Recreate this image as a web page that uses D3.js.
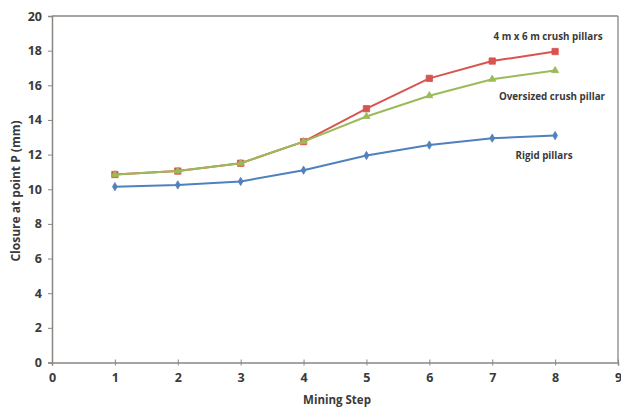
<!DOCTYPE html>
<html>
<head>
<meta charset="utf-8">
<script src="https://cdn.jsdelivr.net/npm/d3@7"></script>
<style>
  html, body { margin: 0; padding: 0; background: #fff; }
  svg { display: block; }
  text { font-family: "Open Sans", "DejaVu Sans", sans-serif; font-weight: bold; fill: #3a3a3a; }
</style>
</head>
<body>
<svg id="chart" width="621" height="409"></svg>
<script>
// Mining steps on the x axis
const steps = [1, 2, 3, 4, 5, 6, 7, 8];
// Closure at point P (mm) per pillar layout
const crushPillars    = [10.85, 11.05, 11.5, 12.75, 14.65, 16.4, 17.4, 17.95];
const oversizedPillar = [10.85, 11.05, 11.5, 12.75, 14.2, 15.4, 16.35, 16.85];
const rigidPillars    = [10.15, 10.25, 10.45, 11.1, 11.95, 12.55, 12.95, 13.1];
// Axis ticks
const xTicks = [0, 1, 2, 3, 4, 5, 6, 7, 8, 9];
const yTicks = [0, 2, 4, 6, 8, 10, 12, 14, 16, 18, 20];
// Series names as written beside the lines
const seriesNames = ["4 m x 6 m crush pillars", "Oversized crush pillar", "Rigid pillars"];

const svg = d3.select("#chart");
const plotLeft = 52, plotRight = 618, plotTop = 16, plotBottom = 362.5;

const x = d3.scaleLinear().domain([0, 9]).range([plotLeft, plotRight]);
const y = d3.scaleLinear().domain([0, 20]).range([plotBottom, plotTop]);

const axisColor = "#8a8682";

// frame on top and right
svg.append("line").attr("x1", plotLeft).attr("x2", plotRight).attr("y1", plotTop).attr("y2", plotTop)
  .attr("stroke", axisColor).attr("stroke-width", 1.3);
svg.append("line").attr("x1", plotRight).attr("x2", plotRight).attr("y1", plotTop).attr("y2", plotBottom)
  .attr("stroke", axisColor).attr("stroke-width", 1.3);

// y axis
const yAxis = svg.append("g").attr("transform", `translate(${plotLeft},0)`)
  .call(d3.axisLeft(y).tickValues(yTicks).tickSize(4).tickPadding(6));
yAxis.select(".domain").attr("stroke", axisColor).attr("stroke-width", 1.5);
yAxis.selectAll(".tick line").attr("stroke", axisColor);
yAxis.selectAll(".tick text").style("font-size", "12.5px").attr("fill", "#3a3a3a")
  .style("font-family", "'Open Sans', sans-serif").style("font-weight", "bold");

// x axis
const xAxis = svg.append("g").attr("transform", `translate(0,${plotBottom})`)
  .call(d3.axisBottom(x).tickValues(xTicks).tickSize(3).tickPadding(8));
xAxis.select(".domain").attr("stroke", axisColor).attr("stroke-width", 1.5);
xAxis.selectAll(".tick line").attr("stroke", axisColor).attr("y1", -3);
xAxis.selectAll(".tick text").style("font-size", "12.5px").attr("fill", "#3a3a3a")
  .style("font-family", "'Open Sans', sans-serif").style("font-weight", "bold");

// axis titles
svg.append("text").attr("x", 337).attr("y", 404).attr("text-anchor", "middle")
  .style("font-size", "11.5px").text("Mining Step");
svg.append("text").attr("transform", "translate(20,191) rotate(-90)")
  .attr("text-anchor", "middle").style("font-size", "12px").text("Closure at point P (mm)");

const line = d3.line().x((d, i) => x(steps[i])).y(d => y(d));

function drawSeries(values, color, shape, size) {
  svg.append("path").datum(values).attr("d", line)
    .attr("fill", "none").attr("stroke", color).attr("stroke-width", 2);
  const sym = d3.symbol().type(shape).size(size);
  svg.append("g").selectAll("path").data(values).join("path")
    .attr("transform", (d, i) => `translate(${x(steps[i])},${y(d)})`)
    .attr("d", sym).attr("fill", color).attr("stroke", color).attr("stroke-width", 0.8);
}

drawSeries(rigidPillars, "#4f81bd", d3.symbolDiamond, 20);
drawSeries(crushPillars, "#d9534f", d3.symbolSquare, 40);
drawSeries(oversizedPillar, "#9bbb59", d3.symbolTriangle, 22);

// series labels
const labelPos = [[548, 40], [552, 100], [544, 159]];
seriesNames.forEach((name, i) => {
  svg.append("text").attr("x", labelPos[i][0]).attr("y", labelPos[i][1])
    .attr("text-anchor", "middle").style("font-size", "9.8px").text(name);
});
</script>
</body>
</html>
